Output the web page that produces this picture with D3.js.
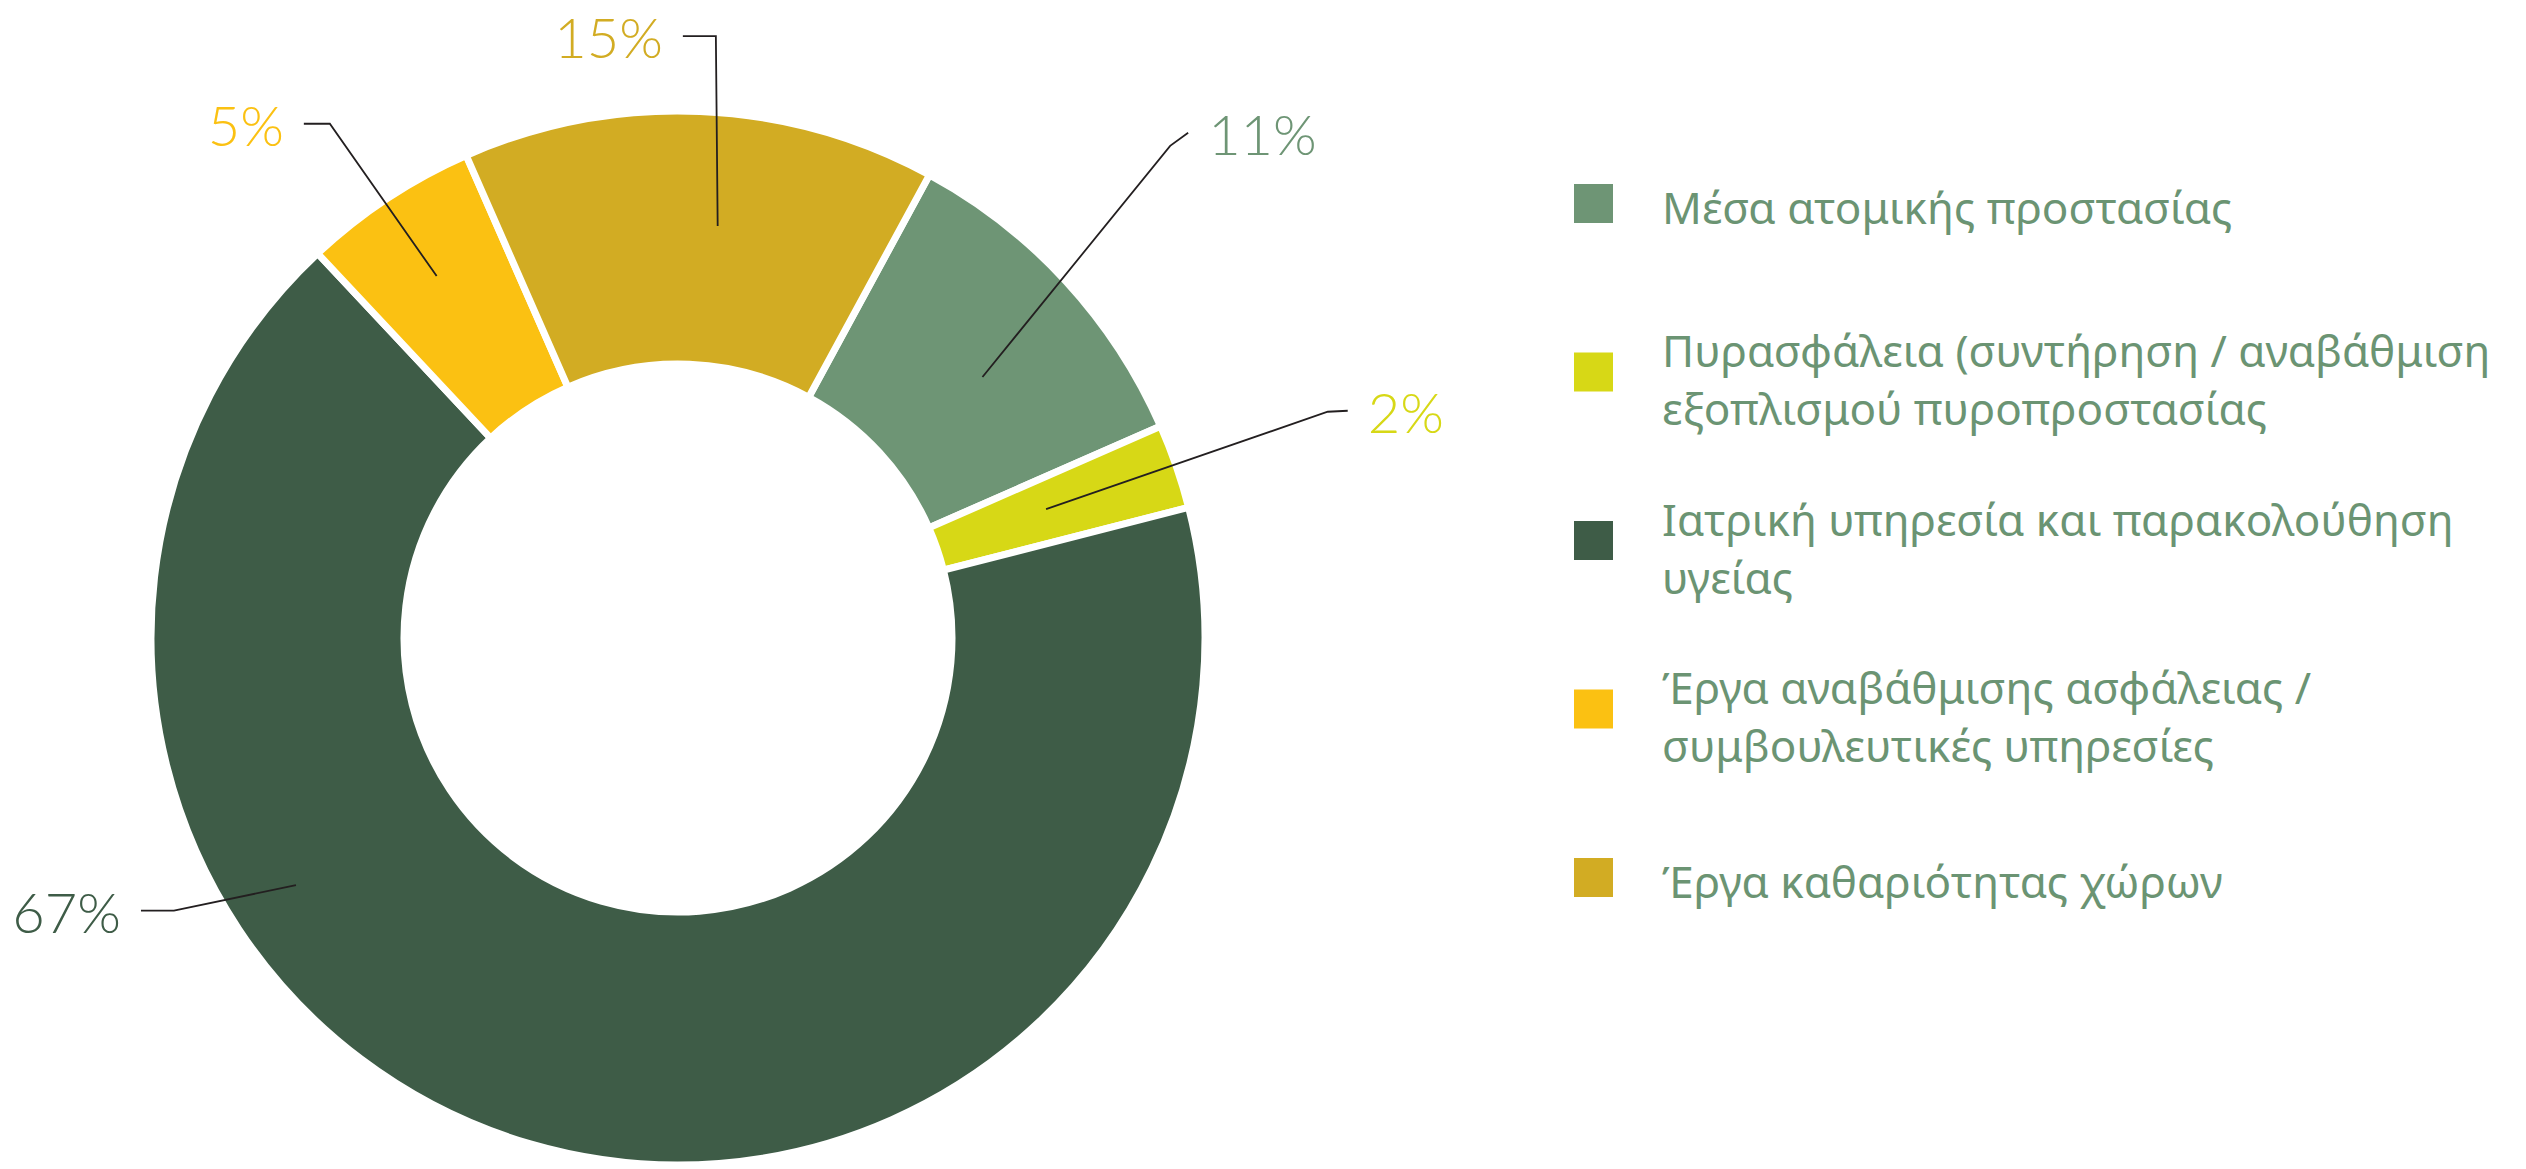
<!DOCTYPE html>
<html>
<head>
<meta charset="utf-8">
<script src="https://cdn.jsdelivr.net/npm/d3@7"></script>
<style>
  body { margin: 0; background: #fff; }
  svg { display: block; }
  .pct { font-family: Lato, "Noto Sans", sans-serif; font-weight: 300; font-size: 56px; }
  .legend text { font-family: "Noto Sans", sans-serif; font-size: 44px; fill: #6b9473; }
</style>
</head>
<body>
<div id="chart"></div>
<script>
// Data
const categories = [
    "Μέσα ατομικής προστασίας",
    "Πυρασφάλεια (συντήρηση / αναβάθμιση εξοπλισμού πυροπροστασίας",
    "Ιατρική υπηρεσία και παρακολούθηση υγείας",
    "Έργα αναβάθμισης ασφάλειας / συμβουλευτικές υπηρεσίες",
    "Έργα καθαριότητας χώρων"
];
const values = [10.5, 2.6, 67, 5.4, 14.5];
const valueLabels = ["11%", "2%", "67%", "5%", "15%"];
const colors = ["#6e9575", "#d7d816", "#3e5c47", "#fbc112", "#d2ac23"];

// Callout placement (polar, degrees clockwise from 12 o'clock)
const callouts = [
    { a0: 49.4, r0: 401, a1: 45.0, r1: 696, tail: [18, -13], side: 1 },
    { a0: 70.7, r0: 390, a1: 70.8, r1: 688, tail: [20, -1], side: 1 },
    { a0: 237.1, r0: 455, a1: 241.6, r1: 573, tail: [-33, 0], side: -1 },
    { a0: -33.7, r0: 435, a1: -34.1, r1: 621, tail: [-26, 0], side: -1 },
    { a0: 5.5, r0: 414, a1: 3.6, r1: 603, tail: [-33, 0], side: -1 }
];

const W = 2526, H = 1169;
const cx = 678, cy = 638;
const outerR = 527, innerR = 274;
const rad = d => d * Math.PI / 180;

const data = categories.map((c, i) => ({ category: c, value: values[i], label: valueLabels[i], color: colors[i] }));

const svg = d3.select("#chart").append("svg")
    .attr("width", W)
    .attr("height", H);

const g = svg.append("g").attr("transform", `translate(${cx},${cy})`);

const start = rad(28.5);
const pie = d3.pie()
    .sort(null)
    .value(d => d.value)
    .startAngle(start)
    .endAngle(start + 2 * Math.PI);

const arc = d3.arc().innerRadius(innerR).outerRadius(outerR);

// Slices
g.selectAll(".slice")
    .data(pie(data))
    .enter()
    .append("path")
    .attr("class", "slice")
    .attr("d", arc)
    .attr("fill", d => d.data.color)
    .attr("stroke", "#fff")
    .attr("stroke-width", 7);

// Leader lines and percentage labels
data.forEach((d, i) => {
    const c = callouts[i];
    const p0 = d3.pointRadial(rad(c.a0), c.r0);
    const p1 = d3.pointRadial(rad(c.a1), c.r1);
    const p2 = [p1[0] + c.tail[0], p1[1] + c.tail[1]];

    g.append("polyline")
        .attr("points", [p0, p1, p2].map(p => p.join(",")).join(" "))
        .attr("fill", "none")
        .attr("stroke", "#231f20")
        .attr("stroke-width", 1.8);

    g.append("text")
        .attr("class", "pct")
        .attr("x", p2[0] + c.side * 20)
        .attr("y", p2[1] + 22)
        .attr("text-anchor", c.side > 0 ? "start" : "end")
        .attr("fill", d.color)
        .text(d.label);
});

// Legend
const legend = svg.append("g")
    .attr("class", "legend")
    .attr("transform", "translate(1574,184)");

const item = legend.selectAll(".item")
    .data(data)
    .enter()
    .append("g")
    .attr("class", "item")
    .attr("transform", (d, i) => `translate(0,${i * 168.5})`);

item.append("rect")
    .attr("width", 39)
    .attr("height", 39)
    .attr("fill", d => d.color);

// Wrap legend text to a max width
const maxWidth = 900;
item.each(function(d) {
    const sel = d3.select(this);
    const text = sel.append("text").attr("x", 88);
    const words = d.category.split(" ");
    const lines = [];
    let line = [];
    const probe = text.append("tspan");
    words.forEach(w => {
        line.push(w);
        probe.text(line.join(" "));
        if (probe.node().getComputedTextLength() > maxWidth && line.length > 1) {
            line.pop();
            lines.push(line.join(" "));
            line = [w];
        }
    });
    lines.push(line.join(" "));
    probe.remove();

    const first = 19.5 + 20 - (lines.length - 1) * 25;
    lines.forEach((l, k) => {
        text.append("tspan")
            .attr("x", 88)
            .attr("y", first + k * 58)
            .text(l);
    });
});
</script>
</body>
</html>
